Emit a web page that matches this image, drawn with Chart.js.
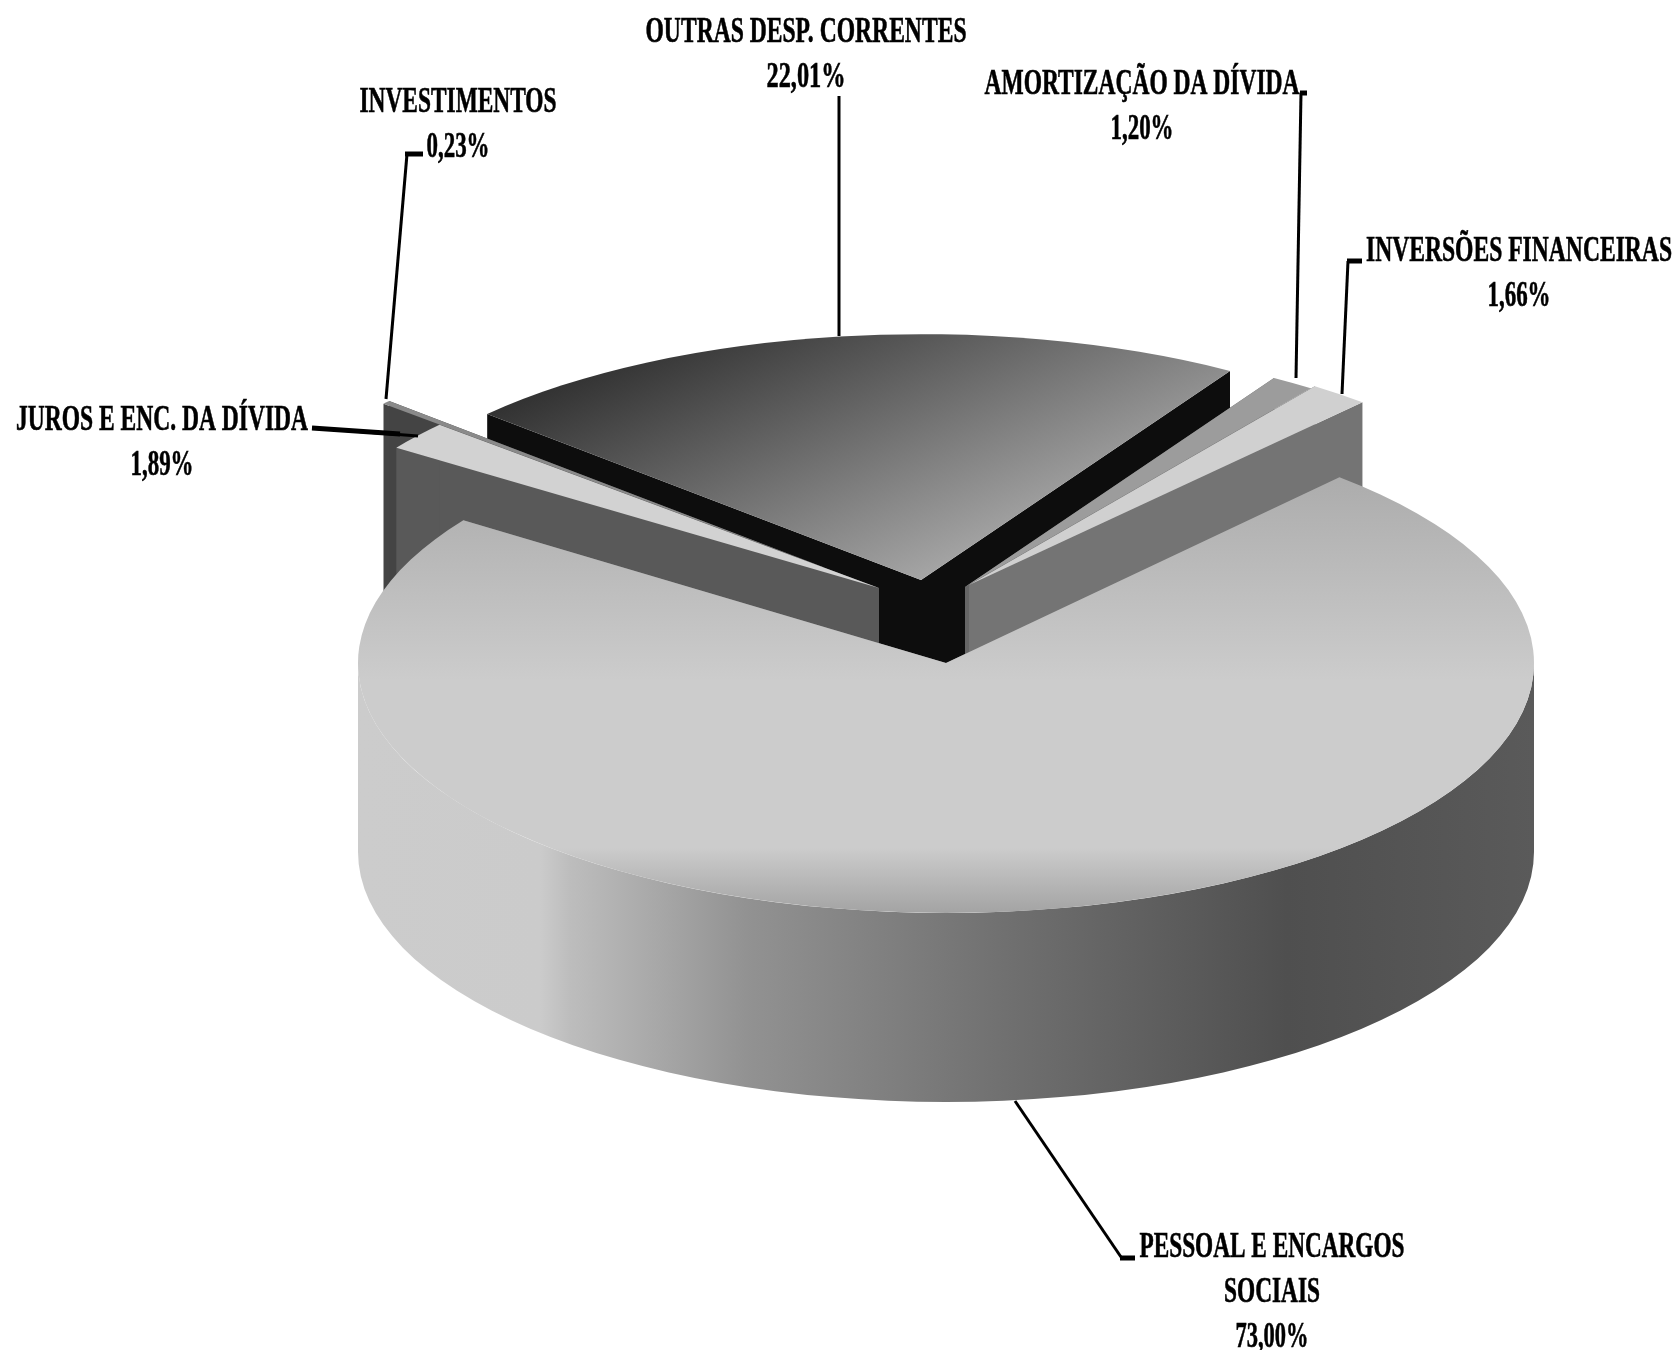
<!DOCTYPE html>
<html>
<head>
<meta charset="utf-8">
<title>Despesas</title>
<script src="https://cdn.jsdelivr.net/npm/chart.js@4/dist/chart.umd.js"></script>
<style>
  html, body { margin: 0; padding: 0; background: #fff; }
  #chartBox { position: relative; width: 1675px; height: 1350px; }
</style>
</head>
<body>
<div id="chartBox"><canvas id="pieChart" width="1675" height="1350"></canvas></div>
<script>
const categories = ['PESSOAL E ENCARGOS SOCIAIS', 'JUROS E ENC. DA DÍVIDA', 'INVESTIMENTOS', 'OUTRAS DESP. CORRENTES', 'AMORTIZAÇÃO DA DÍVIDA', 'INVERSÕES FINANCEIRAS'];
const values = [73.00, 1.89, 0.23, 22.01, 1.20, 1.66];

// how far each slice is pulled out of the pie, in pixels on the page
const pullX = [0, -67, -123, -25, 19, 23];
const pullY = [0, -75, -96, -83, -76, -78];
// back slices first, the big one last
const paintOrder = [3, 4, 5, 2, 1, 0];

const faceColors = ['#cccccc', '#d2d2d2', '#8a8a8a', '#666666', '#9c9c9c', '#d0d0d0'];
const wallColors = ['#777777', '#595959', '#444444', '#0d0d0d', '#666666', '#747474'];

const squashFront = 0.425;
const squashBack = 0.418;
const depth = 189;

// label box: text lines with the width each one is squeezed to, and its centre
const labelLines = [
    [['PESSOAL E ENCARGOS', 265], ['SOCIAIS', 96]],
    [['JUROS E ENC. DA DÍVIDA', 292]],
    [['INVESTIMENTOS', 197]],
    [['OUTRAS DESP. CORRENTES', 321]],
    [['AMORTIZAÇÃO DA DÍVIDA', 315]],
    [['INVERSÕES FINANCEIRAS', 306]]
];
const labelX = [1272, 162, 458, 806, 1142, 1519];
const labelY = [1248, 421, 103, 33, 85, 252];
const percentWidths = [73, 63, 63, 79, 63, 63];

const leaderLines = [
    [[1015, 1101], [1121, 1257]],
    [[312, 428], [418, 436]],
    [[407, 154], [386, 399]],
    [[839, 96], [839, 336]],
    [[1301, 93], [1296, 378]],
    [[1348, 261], [1342, 394]]
];
const leaderStubs = [
    [[1120, 1258], [1135, 1258]],
    [[312, 428], [400, 434]],
    [[405, 154], [423, 154]],
    [[1300, 93], [1307, 93]],
    [[1347, 261], [1362, 261]]
];

function faceFill(ctx, i) {
    if (i === 0) {
        const g = ctx.createLinearGradient(0, 483, 0, 912);
        g.addColorStop(0, '#adadad');
        g.addColorStop(0.46, '#cccccc');
        g.addColorStop(0.85, '#cccccc');
        g.addColorStop(1, '#a4a4a4');
        return g;
    }
    if (i === 3) {
        const g = ctx.createLinearGradient(487, 417, 619, 714);
        g.addColorStop(0, '#333333');
        g.addColorStop(1, '#a5a5a5');
        return g;
    }
    return faceColors[i];
}

function sideFill(ctx) {
    const g = ctx.createLinearGradient(358, 0, 1534, 0);
    g.addColorStop(0, '#cccccc');
    g.addColorStop(0.155, '#cbcbcb');
    g.addColorStop(0.18, '#bdbdbd');
    g.addColorStop(0.33, '#929292');
    g.addColorStop(0.55, '#707070');
    g.addColorStop(0.79, '#4f4f4f');
    g.addColorStop(1, '#5a5a5a');
    return g;
}

function drawWall(ctx, x, y, r, k, angle, color) {
    const rimX = x + r * Math.cos(angle);
    const rimY = y + r * k * Math.sin(angle);
    ctx.fillStyle = color;
    ctx.beginPath();
    ctx.moveTo(x, y);
    ctx.lineTo(rimX, rimY);
    ctx.lineTo(rimX, rimY + depth);
    ctx.lineTo(x, y + depth);
    ctx.closePath();
    ctx.fill();
}

function drawSlice(ctx, arc, i) {
    const x = arc.x + pullX[i];
    const y = arc.y + pullY[i];
    const r = arc.outerRadius;
    const k = i === 0 ? squashFront : squashBack;

    drawWall(ctx, x, y, r, k, arc.startAngle, wallColors[i]);
    drawWall(ctx, x, y, r, k, arc.endAngle, wallColors[i]);

    // round outside of the slice, only the part facing us
    const from = Math.max(arc.startAngle, 0);
    const to = Math.min(arc.endAngle, Math.PI);
    if (to > from) {
        ctx.fillStyle = sideFill(ctx);
        ctx.beginPath();
        ctx.ellipse(x, y, r, r * k, 0, from, to);
        ctx.ellipse(x, y + depth, r, r * k, 0, to, from, true);
        ctx.closePath();
        ctx.fill();
    }

    ctx.fillStyle = faceFill(ctx, i);
    ctx.beginPath();
    ctx.moveTo(x, y);
    ctx.ellipse(x, y, r, r * k, 0, arc.startAngle, arc.endAngle);
    ctx.closePath();
    ctx.fill();
}

function strokePolyline(ctx, points) {
    ctx.beginPath();
    points.forEach((p, n) => n ? ctx.lineTo(p[0], p[1]) : ctx.moveTo(p[0], p[1]));
    ctx.stroke();
}

const pie3d = {
    id: 'pie3d',
    beforeDatasetDraw(chart, args) {
        const ctx = chart.ctx;
        const arcs = chart.getDatasetMeta(args.index).data;
        ctx.save();
        paintOrder.forEach(i => drawSlice(ctx, arcs[i], i));
        ctx.restore();
        return false;
    },
    afterDraw(chart) {
        const ctx = chart.ctx;
        ctx.save();
        ctx.strokeStyle = '#000';
        ctx.lineWidth = 3;
        leaderLines.forEach(points => strokePolyline(ctx, points));
        ctx.lineWidth = 5;
        leaderStubs.forEach(points => strokePolyline(ctx, points));

        ctx.fillStyle = '#000';
        ctx.lineWidth = 0.6;
        ctx.font = 'bold 36px "Liberation Serif"';
        ctx.textAlign = 'center';
        ctx.textBaseline = 'middle';
        const putText = (text, x, y, width) => {
            ctx.fillText(text, x, y, width);
            ctx.strokeText(text, x, y, width);
        };
        categories.forEach((name, i) => {
            let y = labelY[i];
            labelLines[i].forEach(line => {
                putText(line[0], labelX[i], y, line[1]);
                y += 45;
            });
            const percent = values[i].toFixed(2).replace('.', ',') + '%';
            putText(percent, labelX[i], y, percentWidths[i]);
        });
        ctx.restore();
    }
};

new Chart(document.getElementById('pieChart'), {
    type: 'pie',
    data: {
        labels: categories,
        datasets: [{ data: values, backgroundColor: faceColors, borderWidth: 0 }]
    },
    options: {
        responsive: false,
        animation: false,
        events: [],
        rotation: 42,
        radius: 588,
        layout: { padding: { left: 217, bottom: 24 } },
        plugins: { legend: { display: false }, tooltip: { enabled: false } }
    },
    plugins: [pie3d]
});
</script>
</body>
</html>
